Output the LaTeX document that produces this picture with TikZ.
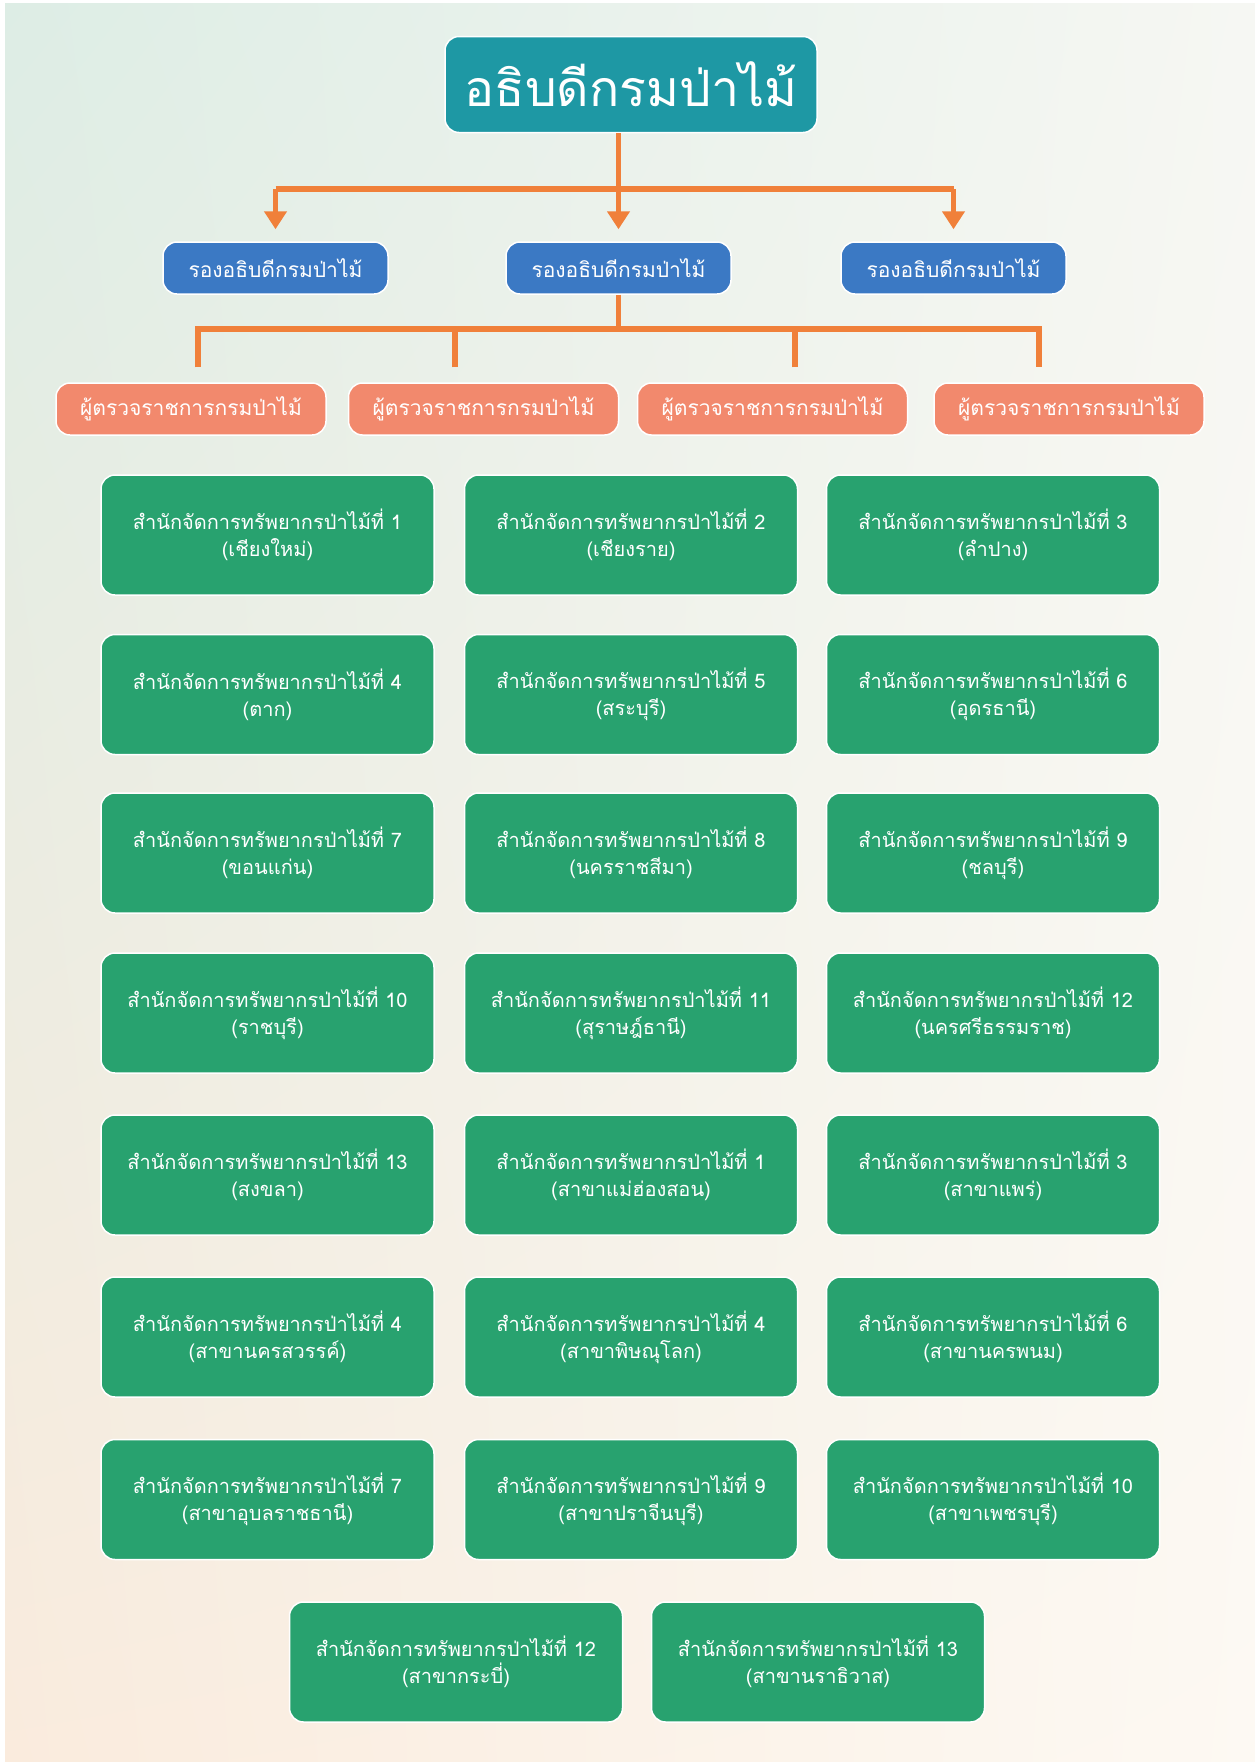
\documentclass[tikz,border=0pt]{standalone}
\usepackage{fontspec}
\setmainfont[Script=Thai]{Loma}
\usetikzlibrary{arrows.meta,shadings}
\definecolor{headteal}{HTML}{1E98A4}
\definecolor{deputyblue}{HTML}{3B79C4}
\definecolor{inspsalmon}{HTML}{F2896D}
\definecolor{officegreen}{HTML}{28A26F}
\definecolor{wireorange}{HTML}{F0803A}
\definecolor{bgmint}{HTML}{DDEDE5}
\definecolor{bgpale}{HTML}{F6F7F3}
\definecolor{bgpeach}{HTML}{FAEBDD}
\definecolor{bgcream}{HTML}{FDF9F3}
\begin{document}
\begin{tikzpicture}[x=1pt,y=1pt]
\tikzstyle{every node}+=[inner sep=0pt]
\tikzstyle{box}=[rounded corners=14pt, draw=white, line width=1.5pt, text=white, align=center]
\tikzstyle{headbox}=[box, fill=headteal, minimum width=372pt, minimum height=96pt, font=\fontsize{50}{54}\selectfont]
\tikzstyle{deputybox}=[box, fill=deputyblue, minimum width=225pt, minimum height=52pt, font=\fontsize{21}{24}\selectfont]
\tikzstyle{inspbox}=[box, fill=inspsalmon, minimum width=270pt, minimum height=52pt, font=\fontsize{21}{24}\selectfont]
\tikzstyle{officebox}=[box, fill=officegreen, minimum width=333pt, minimum height=120pt, font=\fontsize{20}{27}\selectfont]
\tikzstyle{wire}=[draw=wireorange, line width=5.5pt]
\tikzstyle{tip}=[wire, -{Triangle[width=22pt,length=18pt]}, shorten >=12pt]
\fill [white] (0,0) rectangle (1255,-1762);
\shade [upper left=bgmint, upper right=bgpale, lower left=bgpeach, lower right=bgcream] (5,-3) rectangle (1255,-1762);
\node [headbox] (chief) at (631,-84.5) {อธิบดีกรมป่าไม้};
\node [deputybox] (dep1) at (275.5,-268) {รองอธิบดีกรมป่าไม้};
\node [deputybox] (dep2) at (618.5,-268) {รองอธิบดีกรมป่าไม้};
\node [deputybox] (dep3) at (953.5,-268) {รองอธิบดีกรมป่าไม้};
\node [inspbox] (insp1) at (191,-409) {ผู้ตรวจราชการกรมป่าไม้};
\node [inspbox] (insp2) at (483.5,-409) {ผู้ตรวจราชการกรมป่าไม้};
\node [inspbox] (insp3) at (772.5,-409) {ผู้ตรวจราชการกรมป่าไม้};
\node [inspbox] (insp4) at (1069,-409) {ผู้ตรวจราชการกรมป่าไม้};
\node [officebox] (off1) at (267.5,-535) {สำนักจัดการทรัพยากรป่าไม้ที่ 1\\(เชียงใหม่)};
\node [officebox] (off2) at (631,-535) {สำนักจัดการทรัพยากรป่าไม้ที่ 2\\(เชียงราย)};
\node [officebox] (off3) at (993,-535) {สำนักจัดการทรัพยากรป่าไม้ที่ 3\\(ลำปาง)};
\node [officebox] (off4) at (267.5,-694.5) {สำนักจัดการทรัพยากรป่าไม้ที่ 4\\(ตาก)};
\node [officebox] (off5) at (631,-694.5) {สำนักจัดการทรัพยากรป่าไม้ที่ 5\\(สระบุรี)};
\node [officebox] (off6) at (993,-694.5) {สำนักจัดการทรัพยากรป่าไม้ที่ 6\\(อุดรธานี)};
\node [officebox] (off7) at (267.5,-853) {สำนักจัดการทรัพยากรป่าไม้ที่ 7\\(ขอนแก่น)};
\node [officebox] (off8) at (631,-853) {สำนักจัดการทรัพยากรป่าไม้ที่ 8\\(นครราชสีมา)};
\node [officebox] (off9) at (993,-853) {สำนักจัดการทรัพยากรป่าไม้ที่ 9\\(ชลบุรี)};
\node [officebox] (off10) at (267.5,-1013) {สำนักจัดการทรัพยากรป่าไม้ที่ 10\\(ราชบุรี)};
\node [officebox] (off11) at (631,-1013) {สำนักจัดการทรัพยากรป่าไม้ที่ 11\\(สุราษฎ์ธานี)};
\node [officebox] (off12) at (993,-1013) {สำนักจัดการทรัพยากรป่าไม้ที่ 12\\(นครศรีธรรมราช)};
\node [officebox] (off13) at (267.5,-1175) {สำนักจัดการทรัพยากรป่าไม้ที่ 13\\(สงขลา)};
\node [officebox] (br1) at (631,-1175) {สำนักจัดการทรัพยากรป่าไม้ที่ 1\\(สาขาแม่ฮ่องสอน)};
\node [officebox] (br3) at (993,-1175) {สำนักจัดการทรัพยากรป่าไม้ที่ 3\\(สาขาแพร่)};
\node [officebox] (br4a) at (267.5,-1337) {สำนักจัดการทรัพยากรป่าไม้ที่ 4\\(สาขานครสวรรค์)};
\node [officebox] (br4b) at (631,-1337) {สำนักจัดการทรัพยากรป่าไม้ที่ 4\\(สาขาพิษณุโลก)};
\node [officebox] (br6) at (993,-1337) {สำนักจัดการทรัพยากรป่าไม้ที่ 6\\(สาขานครพนม)};
\node [officebox] (br7) at (267.5,-1499.5) {สำนักจัดการทรัพยากรป่าไม้ที่ 7\\(สาขาอุบลราชธานี)};
\node [officebox] (br9) at (631,-1499.5) {สำนักจัดการทรัพยากรป่าไม้ที่ 9\\(สาขาปราจีนบุรี)};
\node [officebox] (br10) at (993,-1499.5) {สำนักจัดการทรัพยากรป่าไม้ที่ 10\\(สาขาเพชรบุรี)};
\node [officebox] (br12) at (456,-1662) {สำนักจัดการทรัพยากรป่าไม้ที่ 12\\(สาขากระบี่)};
\node [officebox] (br13) at (818,-1662) {สำนักจัดการทรัพยากรป่าไม้ที่ 13\\(สาขานราธิวาส)};
\coordinate (hub1) at (618.5,-189);
\coordinate (hub2) at (618.5,-329);
\draw [wire] (hub1 -| dep1.north) -- (hub1 -| dep3.north);
\draw [tip] (chief.south -| dep2.north) -- (dep2.north);
\draw [tip] (hub1 -| dep1.north) -- (dep1.north);
\draw [tip] (hub1 -| dep3.north) -- (dep3.north);
\draw [wire] (dep2.south) -- (hub2);
\draw [wire] ([xshift=7pt,yshift=15pt]insp1.north) |- (hub2) -| ([xshift=-30pt,yshift=15pt]insp4.north);
\draw [wire] ([xshift=-28.5pt,yshift=15pt]insp2.north) -- ++(0,39);
\draw [wire] ([xshift=22.5pt,yshift=15pt]insp3.north) -- ++(0,39);
\end{tikzpicture}
\end{document}
